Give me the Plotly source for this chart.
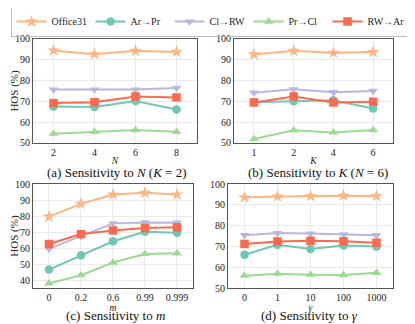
import plotly.graph_objects as go

# data
series = ["Office31", "Ar→Pr", "Cl→RW", "Pr→Cl", "RW→Ar"]
colors = ["#FDB683", "#70C8B2", "#B7B7E2", "#9BDB93", "#FB6A4F"]
symbols = ["star", "circle", "triangle-down", "triangle-up", "square"]

n_vals = ["2", "4", "6", "8"]
hos_n = [
    [94.5, 92.7, 94.3, 93.8],
    [67.6, 67.3, 70.2, 66.1],
    [75.7, 75.7, 75.7, 76.5],
    [54.5, 55.4, 56.2, 55.4],
    [69.2, 69.6, 72.4, 71.9],
]

k_vals = ["1", "2", "4", "6"]
hos_k = [
    [92.6, 94.3, 93.4, 93.7],
    [69.6, 70.1, 70.6, 66.6],
    [74.2, 75.8, 74.4, 75.0],
    [51.9, 56.1, 55.1, 56.2],
    [69.5, 72.4, 69.5, 69.8],
]

m_vals = ["0", "0.2", "0.6", "0.99", "0.999"]
hos_m = [
    [79.6, 87.6, 93.4, 94.5, 93.4],
    [46.5, 55.4, 64.2, 70.2, 69.6],
    [59.5, 67.3, 75.4, 76.0, 75.8],
    [37.9, 43.0, 50.9, 56.3, 56.7],
    [62.5, 68.7, 71.0, 72.5, 72.9],
]

g_vals = ["0", "1", "10", "100", "1000"]
hos_g = [
    [93.6, 94.0, 94.2, 94.4, 94.2],
    [66.0, 70.8, 68.7, 70.4, 69.9],
    [75.4, 76.4, 76.2, 75.8, 75.4],
    [55.9, 56.9, 56.4, 56.2, 57.3],
    [71.2, 72.4, 72.7, 72.5, 71.8],
]

# the page body adds an 8px margin, so the figure is 8px smaller each way
W, H = 407, 316

panels = [
    (n_vals, hos_n, "<i>N</i>", "(a) Sensitivity to <i>N</i> (<i>K</i> = 2)", [50, 100],
     [0.0614, 0.4644], [0.5728, 0.9019], (0.2678, 0.4800)),
    (k_vals, hos_k, "<i>K</i>", "(b) Sensitivity to <i>K</i> (<i>N</i> = 6)", [50, 100],
     [0.5553, 0.9459], [0.5728, 0.9019], (0.7617, 0.4800)),
    (m_vals, hos_m, "<i>m</i>", "(c) Sensitivity to <i>m</i>", [35, 100],
     [0.0614, 0.4545], [0.1139, 0.443], (0.2629, 0.0265)),
    (g_vals, hos_g, "<i>γ</i>", "(d) Sensitivity to <i>γ</i>", [50, 100],
     [0.5405, 0.9459], [0.1139, 0.443], (0.742, 0.0265)),
]

FONT = "Liberation Serif, Times New Roman, Times, serif"
fig = go.Figure()
layout = {}
annotations = []

for i, (xs, vals, xtitle, caption, yr, xd, yd, cpos) in enumerate(panels):
    idx = "" if i == 0 else str(i + 1)
    for j, name in enumerate(series):
        fig.add_trace(go.Scatter(
            x=xs, y=vals[j], name=name, mode="lines+markers",
            xaxis="x" + idx, yaxis="y" + idx,
            line=dict(color=colors[j], width=2),
            marker=dict(symbol=symbols[j], size=8.5 if symbols[j] != "star" else 9.5,
                        color=colors[j]),
            showlegend=(i == 0),
        ))
    common = dict(showline=True, mirror=True, linecolor="#555555", linewidth=1,
                  showgrid=True, gridcolor="#EBEBEB", zeroline=False, automargin=False,
                  ticks="", ticklen=0,
                  tickfont=dict(family=FONT, size=10, color="#222222"))
    layout["xaxis" + idx] = dict(
        common, domain=xd, anchor="y" + idx, type="category",
        range=[-0.5, len(xs) - 0.5],
        title=dict(text=xtitle, font=dict(family=FONT, size=9.5), standoff=0),
    )
    layout["yaxis" + idx] = dict(
        common, domain=yd, anchor="x" + idx, range=yr, dtick=10,
        title=dict(text="HOS (%)" if i % 2 == 0 else "",
                   font=dict(family=FONT, size=11), standoff=4),
    )
    annotations.append(dict(
        text=caption, x=cpos[0], y=cpos[1],
        xref="paper", yref="paper", showarrow=False,
        xanchor="center", yanchor="middle",
        font=dict(family=FONT, size=13, color="#111111"),
    ))

fig.update_layout(
    template="none",
    width=W, height=H,
    margin=dict(l=0, r=0, t=0, b=0, autoexpand=False),
    paper_bgcolor="white", plot_bgcolor="white",
    font=dict(family=FONT, color="#222222"),
    annotations=annotations,
    legend=dict(
        orientation="h", x=0.494, xanchor="center", y=0.957, yanchor="middle",
        bordercolor="#BBBBBB", borderwidth=1, bgcolor="rgba(255,255,255,0)",
        font=dict(family=FONT, size=10), itemwidth=30, tracegroupgap=0,
        entrywidth=34, entrywidthmode="pixels",
    ),
    **layout,
)

fig.write_html("out.html")
